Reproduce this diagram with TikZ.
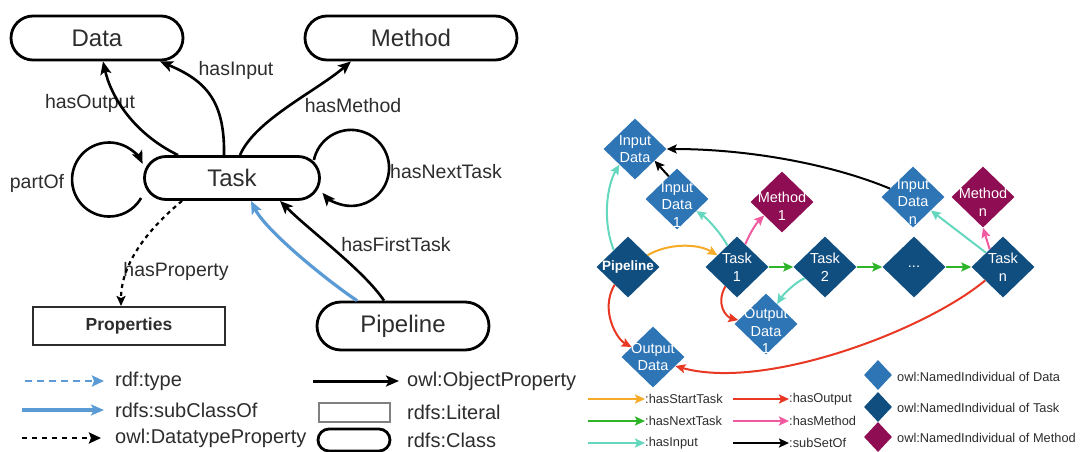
\documentclass[tikz,border=0pt]{standalone}
\usepackage{fontspec}
\setmainfont{Liberation Sans}
\usetikzlibrary{shapes, arrows.meta}

\definecolor{subblue}{RGB}{91,155,213}
\definecolor{datablue}{RGB}{46,117,182}
\definecolor{taskblue}{RGB}{17,78,128}
\definecolor{methodred}{RGB}{143,13,82}
\definecolor{startorange}{RGB}{245,170,40}
\definecolor{nextgreen}{RGB}{45,180,40}
\definecolor{inputteal}{RGB}{100,215,190}
\definecolor{outputred}{RGB}{232,55,35}
\definecolor{methodpink}{RGB}{240,90,160}
\definecolor{labelgray}{RGB}{45,45,45}

\begin{document}
\begin{tikzpicture}[x=1pt, y=-1pt,
    cls/.style={rounded rectangle, draw=black, line width=2.8pt, minimum height=44pt, inner sep=0pt, font=\fontsize{24}{28}\selectfont, text=labelgray},
    lit/.style={rectangle, draw=labelgray, line width=2pt, minimum height=38pt, inner sep=0pt, font=\fontsize{17.5}{20}\selectfont\bfseries, text=labelgray},
    rel/.style={line width=2.6pt, -{Stealth[length=13pt, width=11pt, inset=3pt]}},
    lab/.style={font=\fontsize{19.5}{22}\selectfont, text=labelgray, inner sep=0pt},
    leg/.style={font=\fontsize{20}{23}\selectfont, text=labelgray, anchor=west, inner sep=0pt},
    ind/.style={diamond, minimum width=63pt, minimum height=61pt, inner sep=0pt},
    dtxt/.style={text=white, align=center, font=\fontsize{14.5}{17.5}\selectfont},
    link/.style={line width=2pt, -{Stealth[length=10pt, width=9pt, inset=2pt]}},
    key/.style={font=\fontsize{12.8}{15}\selectfont, anchor=west, inner sep=0pt, text=labelgray},
  ]
  \useasboundingbox (0,0) rectangle (1082,452);

  \node[cls, minimum width=172pt] (Data) at (97,38) {Data};
  \node[cls, minimum width=212pt] (Method) at (411,38) {Method};
  \node[cls, minimum width=175pt, minimum height=43pt] (Task) at (232,178) {Task};
  \node[cls, minimum width=172pt, minimum height=48pt] (Pipeline) at (403,326) {Pipeline};
  \node[lit, minimum width=192pt] (Props) at (129,326) {Properties};

  \node[lab] (lOut) at (90,103) {hasOutput};
  \node[lab] (lIn) at (236,70) {hasInput};
  \node[lab] (lMeth) at (353,106) {hasMethod};
  \node[lab] (lPart) at (37,183) {partOf};
  \node[lab] (lNext) at (446,172) {hasNextTask};
  \node[lab] (lProp) at (176,271) {hasProperty};
  \node[lab] (lFirst) at (396,245) {hasFirstTask};

  \draw[rel] ([xshift=-54pt]Task.north) .. controls +(-45,-22) and +(8,35) .. ([xshift=6pt]Data.south);
  \draw[rel] ([xshift=-8pt]Task.north) .. controls +(1,-55) and +(45,19) .. ([xshift=63pt]Data.south);
  \draw[rel] ([xshift=8pt]Task.north) .. controls +(15,-35) and +(-35,30) .. ([xshift=-60pt]Method.south);
  \draw[rel] ([xshift=-2pt, yshift=-20pt]Task.west) arc[start angle=30, end angle=335, radius=37];
  \draw[rel] ([xshift=-7pt, yshift=18pt]Task.east) arc[start angle=192, end angle=499, radius=38];
  \draw[line width=2.2pt, dash pattern=on 4pt off 4pt, -{Stealth[length=10pt, width=9pt, inset=2pt]}]
    ([xshift=-50pt]Task.south) .. controls +(-30,25) and +(0,-45) .. ([xshift=-8pt]Props.north);
  \draw[rel, subblue, line width=3.2pt] ([xshift=-46pt]Pipeline.north) .. controls +(-30,-20) and +(15,30) .. ([xshift=19pt]Task.south);
  \draw[rel] ([xshift=-19pt]Pipeline.north) .. controls +(-20,-30) and +(30,30) .. ([xshift=48pt]Task.south);

  \coordinate (kType) at (25,381);
  \coordinate (kSub) at (22,410);
  \coordinate (kDt) at (22,438);
  \coordinate (kObj) at (313,381);
  \node[leg] (tType) at (115,381) {rdf:type};
  \node[leg] (tSub) at (115,410) {rdfs:subClassOf};
  \node[leg] (tDt) at (115,438) {owl:DatatypeProperty};
  \node[leg] (tObj) at (407,381) {owl:ObjectProperty};
  \node[lit, minimum width=71pt, minimum height=19pt, draw=gray] (kLit) at (354,412) {};
  \node[leg] (tLit) at (407,412) {rdfs:Literal};
  \node[cls, minimum width=72pt, minimum height=22pt] (kCls) at (354,440) {};
  \node[leg] (tCls) at (407,440) {rdfs:Class};
  \draw[subblue, line width=2.4pt, dash pattern=on 7pt off 5pt, -{Stealth[length=12pt, width=11pt, inset=2pt]}] (kType) -- ([xshift=-11pt]tType.west);
  \draw[rel, subblue, line width=3.6pt] (kSub) -- ([xshift=-11pt]tSub.west);
  \draw[line width=2.4pt, dash pattern=on 5pt off 5pt, -{Stealth[length=12pt, width=11pt, inset=2pt]}] (kDt) -- ([xshift=-14pt]tDt.west);
  \draw[rel, line width=3pt] (kObj) -- ([xshift=-8pt]tObj.west);

  \node[ind, fill=datablue, label={[dtxt]center:Input\\Data}] (InData) at (635,149) {};
  \node[ind, fill=datablue, label={[dtxt, yshift=-6pt]center:Input\\Data\\1}] (InDataA) at (677,199) {};
  \node[ind, fill=methodred, label={[dtxt, yshift=-4pt]center:Method\\1}] (MethA) at (782,202) {};
  \node[ind, fill=taskblue, label={[dtxt, font=\fontsize{13.5}{16}\selectfont\bfseries]center:Pipeline}] (Pipe) at (628,267) {};
  \node[ind, fill=taskblue, label={[dtxt]center:Task\\1}] (TaskA) at (737,267) {};
  \node[ind, fill=taskblue, label={[dtxt]center:Task\\2}] (TaskB) at (825,267) {};
  \node[ind, fill=taskblue, label={[dtxt]center:...}] (TaskDots) at (914,267) {};
  \node[ind, fill=taskblue, label={[dtxt]center:Task\\n}] (TaskN) at (1003,267) {};
  \node[ind, fill=datablue, label={[dtxt, yshift=-5pt]center:Input\\Data\\n}] (InDataN) at (913,197) {};
  \node[ind, fill=methodred, label={[dtxt, yshift=-5pt]center:Method\\n}] (MethN) at (983,197) {};
  \node[ind, fill=datablue, label={[dtxt, yshift=-7pt]center:Output\\Data\\1}] (OutDataA) at (766,324) {};
  \node[ind, fill=datablue, label={[dtxt]center:Output\\Data}] (OutData) at (653,357) {};

  \draw[link, inputteal] (Pipe.130) .. controls +(-12,-30) and +(-12,20) .. (InData.225);
  \draw[link, startorange] (Pipe.31) .. controls +(20,-12) and +(-20,-12) .. (TaskA.149);
  \draw[link, outputred] (Pipe.233) .. controls +(-15,25) and +(-15,-8) .. (OutData.155);
  \draw[link, inputteal] (TaskA.114) .. controls +(-5,-10) and +(12,8) .. (InDataA.-32);
  \draw[link, methodpink] (TaskA.70) .. controls +(5,-12) and +(-8,8) .. (MethA.217);
  \draw[link, nextgreen] (TaskA) -- (TaskB);
  \draw[link, nextgreen] (TaskB) -- (TaskDots);
  \draw[link, nextgreen] (TaskDots) -- (TaskN);
  \draw[link, outputred] (TaskA.239) .. controls +(-10,18) and +(-12,-3) .. (OutDataA.172);
  \draw[link, inputteal] (TaskB.209) .. controls +(-10,4) and +(5,-8) .. (OutDataA.61);
  \draw[link, inputteal] (TaskN.140) -- (InDataN.-37);
  \draw[link, methodpink] (TaskN.127) -- (MethN.south);
  \draw[link, outputred] (TaskN.217) .. controls +(-60,50) and +(90,25) .. (OutData.-22);
  \draw[link, black] (InDataN.160) .. controls +(-60,-25) and +(80,0) .. (InData.east);
  \draw[link, black] (InDataA.110) -- (InData.-31);

  \coordinate (kStart) at (588,399);
  \coordinate (kNext) at (588,421);
  \coordinate (kIn) at (588,443);
  \coordinate (kOut) at (733,399);
  \coordinate (kMeth) at (733,421);
  \coordinate (kSubset) at (733,443);
  \node[key] (tStart) at (645,399) {:hasStartTask};
  \node[key] (tNext) at (645,421) {:hasNextTask};
  \node[key] (tIn) at (645,443) {:hasInput};
  \node[key] (tOut) at (789,399) {:hasOutput};
  \node[key] (tMeth) at (789,421) {:hasMethod};
  \node[key] (tSubset) at (789,443) {:subSetOf};
  \draw[link, startorange] (kStart) -- (tStart.west);
  \draw[link, nextgreen] (kNext) -- (tNext.west);
  \draw[link, inputteal] (kIn) -- (tIn.west);
  \draw[link, outputred] (kOut) -- (tOut.west);
  \draw[link, methodpink] (kMeth) -- (tMeth.west);
  \draw[link, black] (kSubset) -- (tSubset.west);

  \node[ind, fill=datablue, minimum width=28pt, minimum height=30pt] (kData) at (878,375) {};
  \node[ind, fill=taskblue, minimum width=28pt, minimum height=30pt] (kTask) at (878,407) {};
  \node[ind, fill=methodred, minimum width=28pt, minimum height=30pt] (kMethod) at (878,437) {};
  \node[key] (tData) at (897,377) {owl:NamedIndividual of Data};
  \node[key] (tTask) at (897,408) {owl:NamedIndividual of Task};
  \node[key] (tMethod) at (897,438) {owl:NamedIndividual of Method};
\end{tikzpicture}
\end{document}
